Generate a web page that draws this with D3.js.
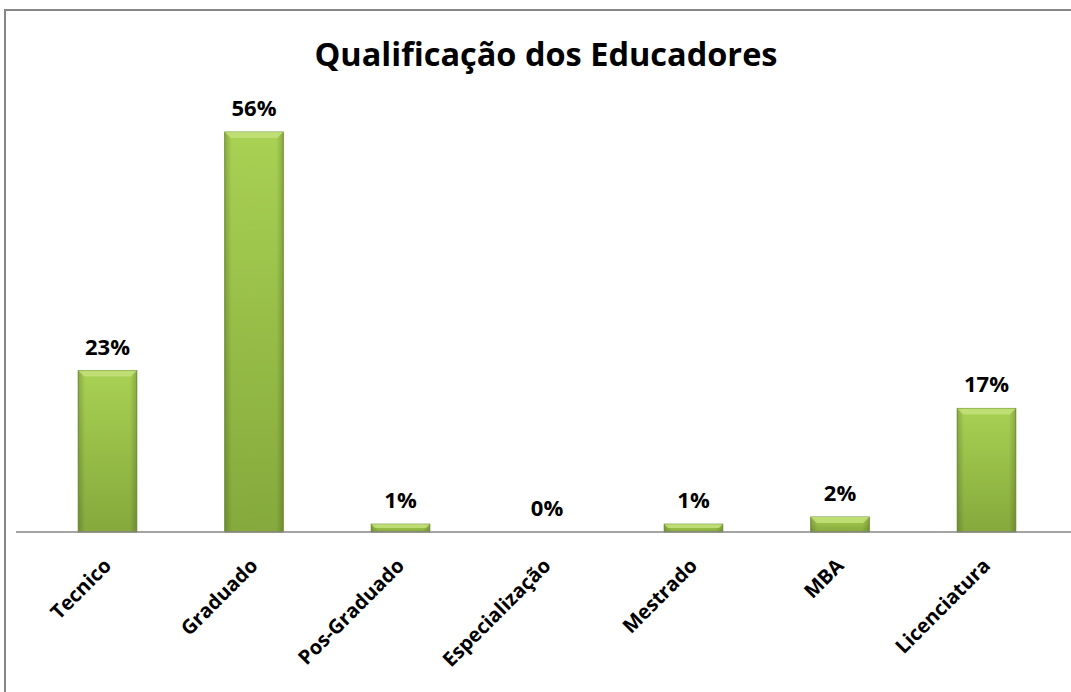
<!DOCTYPE html>
<html><head><meta charset="utf-8">
<script src="https://cdn.jsdelivr.net/npm/d3@7"></script>
<style>body{margin:0;background:#fff}svg{display:block}</style>
</head><body>
<script>
const categories = ["Tecnico","Graduado","Pos-Graduado","Especialização","Mestrado","MBA","Licenciatura"];
const values = [22.6, 56, 1.1, 0, 1.1, 2.1, 17.3];
const labels = ["23%","56%","1%","0%","1%","2%","17%"];
const title = "Qualificação dos Educadores";

const W = 1071, H = 692;
const FONT = "'Open Sans', Lato, sans-serif";
const svg = d3.select("body").append("svg").attr("width", W).attr("height", H);

const defs = svg.append("defs");
const g1 = defs.append("linearGradient").attr("id","barV").attr("x1",0).attr("y1",0).attr("x2",0).attr("y2",1);
g1.append("stop").attr("offset","0%").attr("stop-color","#a9d153");
g1.append("stop").attr("offset","100%").attr("stop-color","#85a93c");
const g2 = defs.append("linearGradient").attr("id","barH").attr("x1",0).attr("y1",0).attr("x2",1).attr("y2",0);
g2.append("stop").attr("offset","0%").attr("stop-color","#000").attr("stop-opacity",0.18);
g2.append("stop").attr("offset","12%").attr("stop-color","#000").attr("stop-opacity",0);
g2.append("stop").attr("offset","88%").attr("stop-color","#000").attr("stop-opacity",0);
g2.append("stop").attr("offset","100%").attr("stop-color","#000").attr("stop-opacity",0.18);

// chart border
svg.append("path").attr("d",`M5,${H} L5,10 L${W},10`).attr("fill","none").attr("stroke","#868686").attr("stroke-width",2);

const x = d3.scaleBand().domain(categories).range([34.25, 1059.75]).paddingInner(0.6).paddingOuter(0.3);
const y = d3.scaleLinear().domain([0, 56]).range([532, 132]);

svg.append("text").attr("x", 546).attr("y", 66).attr("text-anchor","middle")
  .attr("font-family",FONT).attr("font-weight","bold").attr("font-size",32.5)
  .attr("fill","#000").text(title);

const bars = svg.append("g");
categories.forEach((c,i)=>{
  const v = values[i];
  if (v <= 0) return;
  const bx = x(c), bw = x.bandwidth(), by = y(v), bh = y(0)-y(v);
  bars.append("rect").attr("x",bx).attr("y",by).attr("width",bw).attr("height",bh).attr("fill","url(#barV)")
    .attr("stroke","#78993a").attr("stroke-width",1);
  bars.append("rect").attr("x",bx).attr("y",by).attr("width",bw).attr("height",bh).attr("fill","url(#barH)");
  const bev = Math.min(6, bh/2);
  bars.append("path").attr("d",`M${bx},${by} L${bx+bw},${by} L${bx+bw-bev},${by+bev} L${bx+bev},${by+bev} Z`)
    .attr("fill","#c3e27a").attr("opacity",0.85);
});

const axisG = svg.append("g").attr("transform",`translate(0,${y(0)})`);
axisG.append("line").attr("x1",16).attr("x2",W).attr("y1",0).attr("y2",0).attr("stroke","#868686").attr("stroke-width",1.5);

svg.append("g").selectAll("text").data(categories).join("text")
  .attr("x", (d,i)=> x(d)+x.bandwidth()/2)
  .attr("y", (d,i)=> y(values[i]) - 16)
  .attr("text-anchor","middle")
  .attr("font-family",FONT).attr("font-weight","bold").attr("font-size",22)
  .attr("fill","#000")
  .text((d,i)=>labels[i]);

svg.append("g").selectAll("text").data(categories).join("text")
  .attr("transform", d => `translate(${x(d)+x.bandwidth()/2+5},${y(0)+35}) rotate(-45)`)
  .attr("text-anchor","end")
  .attr("font-family",FONT).attr("font-weight","bold").attr("font-size",20)
  .attr("fill","#000")
  .text(d=>d);
</script>
</body></html>
